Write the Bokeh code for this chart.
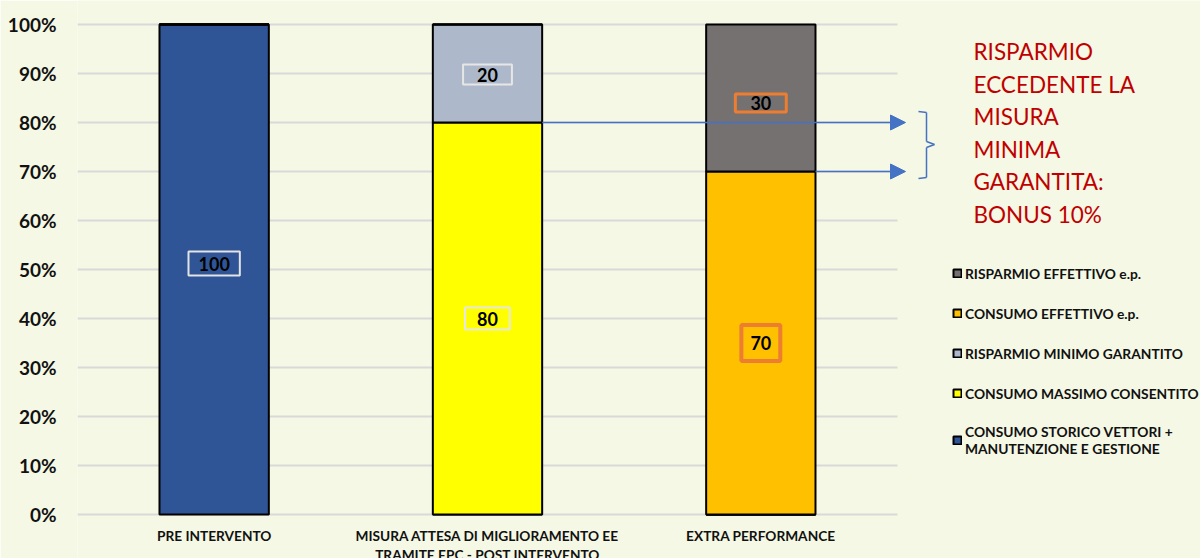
from bokeh.plotting import figure
from bokeh.models import (Range1d, Legend, LegendItem, Label, Arrow,
                          NormalHead, FixedTicker, PrintfTickFormatter, ColumnDataSource)
from bokeh.core.properties import value
from bokeh.embed import file_html
from bokeh.resources import INLINE

# ---------------- data ----------------
categories = ["PRE INTERVENTO",
              "MISURA ATTESA DI MIGLIORAMENTO EE\nTRAMITE EPC - POST INTERVENTO",
              "EXTRA PERFORMANCE"]
consumo_storico = [100, 0, 0]
consumo_massimo = [0, 80, 0]
risparmio_minimo = [0, 20, 0]
consumo_effettivo = [0, 0, 70]
risparmio_effettivo = [0, 0, 30]
series_keys = ["storico", "massimo", "minimo", "c_eff", "r_eff"]
series_names = ["CONSUMO STORICO VETTORI +\nMANUTENZIONE E GESTIONE",
                "CONSUMO MASSIMO CONSENTITO",
                "RISPARMIO MINIMO GARANTITO",
                "CONSUMO EFFETTIVO e.p.",
                "RISPARMIO EFFETTIVO e.p."]
y_ticks = [0, 10, 20, 30, 40, 50, 60, 70, 80, 90, 100]
note_lines = ["RISPARMIO", "ECCEDENTE LA", "MISURA", "MINIMA", "GARANTITA:", "BONUS 10%"]

# ---------------- styles ----------------
colors = ["#2F5597", "#FFFF00", "#ADB9CA", "#FFC000", "#767171"]
box_border = ["#E4E4E4", "#E7E6E6", "#E7E6E6", "#ED7D31", "#ED7D31"]
box_width = [2, 2, 2, 4, 3]
box_pad = [dict(left=10, right=10, top=5, bottom=5),
           dict(left=12, right=12, top=4, bottom=4),
           dict(left=14, right=14, top=3, bottom=3),
           dict(left=9, right=9, top=11, bottom=11),
           dict(left=15, right=15, top=2, bottom=2)]
box_yoff = [6, 0, -1, 0, -5]
BG = "#F5F8E4"
FONT = "Lato"
ARROW_C = "#4472C4"

W, H = 1200, 558
LEFT = 77                 # left axis panel (px)
PX_PER_CAT = 273.33       # px per category
PX_PER_PCT = 4.9          # px per percent
ZERO_Y = 514              # px of 0%


def dx(px):  # pixel x -> data x
    return (px - LEFT) / PX_PER_CAT


def dy(py):  # pixel y -> data y
    return (ZERO_Y - py) / PX_PER_PCT


n = len(categories)
xpos = [i + 0.5 for i in range(n)]
src = ColumnDataSource(dict(x=xpos, storico=consumo_storico, massimo=consumo_massimo,
                            minimo=risparmio_minimo, c_eff=consumo_effettivo,
                            r_eff=risparmio_effettivo))

p = figure(x_range=Range1d(0, dx(W)), y_range=Range1d(dy(H), dy(0)),
           width=W, height=H, output_backend="svg", toolbar_location=None,
           min_border_left=LEFT, min_border_top=0, min_border_right=0, min_border_bottom=0)
p.background_fill_color = BG
p.border_fill_color = BG
p.outline_line_color = None

# gridlines (only across the category area)
p.segment(x0=[0] * len(y_ticks), x1=[n] * len(y_ticks), y0=y_ticks, y1=y_ticks,
          line_color="#D9D9D9", line_width=2)

renderers = p.vbar_stack(series_keys, x="x", width=0.4, color=colors,
                         line_color="black", line_width=2, source=src)

# axes
p.xaxis.visible = False
p.xgrid.grid_line_color = None
p.ygrid.grid_line_color = None
p.yaxis.ticker = FixedTicker(ticks=y_ticks)
p.yaxis.formatter = PrintfTickFormatter(format="%d%%")
p.yaxis.axis_line_color = None
p.yaxis.major_tick_line_color = None
p.yaxis.minor_tick_line_color = None
p.yaxis.major_tick_out = 0
p.yaxis.major_tick_in = 0
p.yaxis.major_label_text_font = FONT
p.yaxis.major_label_text_font_style = "bold"
p.yaxis.major_label_text_color = "#111111"
p.yaxis.major_label_text_font_size = "19px"
p.yaxis.major_label_standoff = 21

# category labels
p.text(x=xpos, y=[dy(526)] * n, text=categories, text_align="center", text_baseline="top",
       text_font=value(FONT), text_font_style="bold", text_font_size="13.7px",
       text_color="#111111", text_line_height=1.15)

# value labels
series_vals = [consumo_storico, consumo_massimo, risparmio_minimo, consumo_effettivo, risparmio_effettivo]
for ci in range(n):
    base = 0
    for si, vals in enumerate(series_vals):
        v = vals[ci]
        if v > 0:
            p.add_layout(Label(x=xpos[ci], y=base + v / 2, y_offset=box_yoff[si], text=str(v),
                               text_align="center", text_baseline="middle",
                               text_font=FONT, text_font_style="bold",
                               text_font_size="18px", text_color="black",
                               border_line_color=box_border[si], border_line_width=box_width[si],
                               padding=box_pad[si]))
        base += v

# arrows
p.add_layout(Arrow(end=NormalHead(size=15, fill_color=ARROW_C, line_color=ARROW_C),
                   x_start=xpos[1] + 0.2, y_start=consumo_massimo[1],
                   x_end=dx(905), y_end=consumo_massimo[1],
                   line_color=ARROW_C, line_width=1.5))
p.add_layout(Arrow(end=NormalHead(size=15, fill_color=ARROW_C, line_color=ARROW_C),
                   x_start=xpos[2] + 0.2, y_start=consumo_effettivo[2],
                   x_end=dx(905), y_end=consumo_effettivo[2],
                   line_color=ARROW_C, line_width=1.5))

# brace
brace = [(918, 111), (926, 112), (926, 141), (934, 144), (926, 147), (926, 177), (918, 178)]
for (x0, y0), (x1, y1) in zip(brace[:-1], brace[1:]):
    p.add_layout(Arrow(end=None, start=None, x_start=dx(x0), y_start=dy(y0),
                       x_end=dx(x1), y_end=dy(y1), line_color=ARROW_C, line_width=1.5))

# red note
for i, line in enumerate(note_lines):
    p.add_layout(Label(x=dx(973), y=dy(51 + 32.6 * i), text=line, text_align="left",
                       text_baseline="middle", text_font=FONT, text_font_size="22.5px",
                       text_color="#C00000"))

# legend
items = [LegendItem(label=series_names[i], renderers=[renderers[i]])
         for i in reversed(range(n + 2))]
legend = Legend(items=items, location=(952 - LEFT, H - 457), background_fill_alpha=0,
                border_line_color=None, label_text_font=FONT, label_text_font_style="bold",
                label_text_font_size="13.8px", label_text_color="#111111",
                label_text_line_height=1.45,
                glyph_width=10, glyph_height=10, label_height=20, spacing=20,
                padding=0, margin=0, label_standoff=3)
p.add_layout(legend)

open("out.html", "w").write(file_html(p, INLINE))
